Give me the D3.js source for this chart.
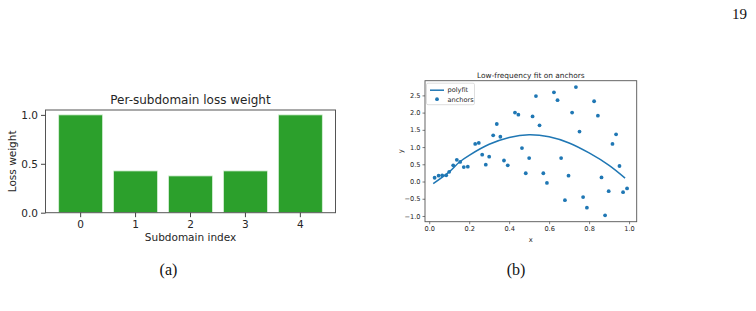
<!DOCTYPE html>
<html>
<head>
<meta charset="utf-8">
<script src="https://cdn.jsdelivr.net/npm/d3@7"></script>
<style>
  body { margin: 0; background: #fff; }
  svg text { font-family: "DejaVu Sans", sans-serif; fill: #262626; }
  .cap { font-family: "Liberation Serif", "DejaVu Serif", serif !important; fill: #111 !important; }
</style>
</head>
<body>
<svg id="fig" width="756" height="311"></svg>
<script>
// left panel: per-subdomain loss weight
const subdomains = [0, 1, 2, 3, 4];
const lossWeights = [1.0, 0.427, 0.376, 0.427, 1.0];
const weightTicks = [0.0, 0.5, 1.0];

// right panel: anchors + low-frequency fit
const anchorX = [0.027, 0.047, 0.065, 0.085, 0.100, 0.120, 0.138, 0.155, 0.173, 0.193,
  0.230, 0.248, 0.265, 0.283, 0.300, 0.320, 0.338, 0.356, 0.374, 0.393,
  0.429, 0.446, 0.464, 0.483, 0.500, 0.517, 0.534, 0.552, 0.571, 0.589,
  0.624, 0.642, 0.660, 0.679, 0.697, 0.715, 0.734, 0.752, 0.770, 0.789,
  0.825, 0.844, 0.862, 0.880, 0.898, 0.917, 0.935, 0.952, 0.970, 0.990];
const anchorY = [0.11, 0.17, 0.18, 0.18, 0.28, 0.47, 0.63, 0.57, 0.42, 0.43,
  1.09, 1.12, 0.78, 0.49, 0.72, 1.34, 1.67, 1.30, 0.61, 0.47,
  2.00, 1.94, 0.97, 0.24, 0.68, 1.89, 2.48, 1.63, 0.24, -0.04,
  2.59, 2.36, 0.68, -0.54, 0.17, 2.00, 2.74, 1.45, -0.45, -0.76,
  2.33, 1.91, 0.12, -0.98, -0.28, 1.09, 1.37, 0.45, -0.31, -0.20];
const fitX = [0.02, 0.10, 0.15, 0.20, 0.30, 0.40, 0.50, 0.60, 0.70, 0.80, 0.90, 0.98];
const fitY = [-0.06, 0.28, 0.56, 0.76, 1.08, 1.28, 1.36, 1.30, 1.12, 0.83, 0.47, 0.10];
const xTicks = [0.0, 0.2, 0.4, 0.6, 0.8, 1.0];
const yTicks = [-1.0, -0.5, 0.0, 0.5, 1.0, 1.5, 2.0, 2.5];

const blue = "#1f77b4";
const green = "#2ca02c";
const svg = d3.select("#fig");

// ---------- panel (a) ----------
const a = { left: 45.5, right: 335.5, top: 110, bottom: 212.7 };
const xa = d3.scaleBand().domain(subdomains).range([a.left, a.right])
  .paddingInner(0.2).paddingOuter(0.24);
const ya = d3.scaleLinear().domain([0, 1.05]).range([a.bottom, a.top]);

const ga = svg.append("g");
ga.selectAll("rect.bar")
  .data(subdomains)
  .enter()
  .append("rect")
  .attr("class", "bar")
  .attr("x", d => xa(d))
  .attr("width", xa.bandwidth())
  .attr("y", (d, i) => ya(lossWeights[i]))
  .attr("height", (d, i) => ya(0) - ya(lossWeights[i]))
  .attr("fill", green)
  .attr("stroke", "#d8f0d8")
  .attr("stroke-width", 0.8);

ga.append("rect")
  .attr("x", a.left).attr("y", a.top)
  .attr("width", a.right - a.left).attr("height", a.bottom - a.top)
  .attr("fill", "none").attr("stroke", "#555").attr("stroke-width", 1);

const axA = ga.append("g").attr("transform", "translate(0," + a.bottom + ")")
  .call(d3.axisBottom(xa).tickSize(4.5).tickPadding(3).tickFormat(d3.format("d")));
const ayA = ga.append("g").attr("transform", "translate(" + a.left + ",0)")
  .call(d3.axisLeft(ya).tickValues(weightTicks).tickSize(4.5).tickPadding(3).tickFormat(d3.format(".1f")));
[axA, ayA].forEach(function (g) {
  g.select(".domain").remove();
  g.selectAll("line").attr("stroke", "#444");
  g.selectAll("text").style("font-size", "10.5px").attr("fill", "#262626");
});

ga.append("text").attr("x", (a.left + a.right) / 2).attr("y", 103.5)
  .attr("text-anchor", "middle").style("font-size", "12px")
  .text("Per-subdomain loss weight");
ga.append("text").attr("x", (a.left + a.right) / 2).attr("y", 241)
  .attr("text-anchor", "middle").style("font-size", "10.5px")
  .text("Subdomain index");
ga.append("text").attr("transform", "translate(15.5," + (a.top + a.bottom) / 2 + ") rotate(-90)")
  .attr("text-anchor", "middle").style("font-size", "10.5px")
  .text("Loss weight");

// ---------- panel (b) ----------
const b = { left: 425, right: 636.7, top: 80.7, bottom: 221.7 };
const xExt = d3.extent(anchorX), yExt = d3.extent(anchorY);
const xPad = (xExt[1] - xExt[0]) * 0.05, yPad = (yExt[1] - yExt[0]) * 0.05;
const xb = d3.scaleLinear().domain([xExt[0] - xPad, xExt[1] + xPad]).range([b.left, b.right]);
const yb = d3.scaleLinear().domain([yExt[0] - yPad, yExt[1] + yPad]).range([b.bottom, b.top]);

const gb = svg.append("g");
const fitLine = d3.line()
  .x(d => xb(d[0]))
  .y(d => yb(d[1]))
  .curve(d3.curveCatmullRom);
gb.append("path")
  .datum(fitX.map((x, i) => [x, fitY[i]]))
  .attr("d", fitLine)
  .attr("fill", "none")
  .attr("stroke", blue)
  .attr("stroke-width", 1.5);

gb.selectAll("circle.anchor")
  .data(anchorX)
  .enter()
  .append("circle")
  .attr("class", "anchor")
  .attr("cx", d => xb(d))
  .attr("cy", (d, i) => yb(anchorY[i]))
  .attr("r", 1.9)
  .attr("fill", blue);

gb.append("rect")
  .attr("x", b.left).attr("y", b.top)
  .attr("width", b.right - b.left).attr("height", b.bottom - b.top)
  .attr("fill", "none").attr("stroke", "#555").attr("stroke-width", 0.9);

const axB = gb.append("g").attr("transform", "translate(0," + b.bottom + ")")
  .call(d3.axisBottom(xb).tickValues(xTicks).tickSize(2.5).tickPadding(2).tickFormat(d3.format(".1f")));
const ayB = gb.append("g").attr("transform", "translate(" + b.left + ",0)")
  .call(d3.axisLeft(yb).tickValues(yTicks).tickSize(2.5).tickPadding(2).tickFormat(d3.format(".1f")));
[axB, ayB].forEach(function (g) {
  g.select(".domain").remove();
  g.selectAll("line").attr("stroke", "#444").attr("stroke-width", 0.7);
  g.selectAll("text").style("font-size", "6.6px").attr("fill", "#262626");
});
ayB.selectAll("text").text(d => d3.format(".1f")(d).replace("-", "\u2212"));

gb.append("text").attr("x", (b.left + b.right) / 2).attr("y", 77.5)
  .attr("text-anchor", "middle").style("font-size", "7.4px")
  .text("Low-frequency fit on anchors");
gb.append("text").attr("x", (b.left + b.right) / 2).attr("y", 241.5)
  .attr("text-anchor", "middle").style("font-size", "6.8px")
  .text("x");
gb.append("text").attr("transform", "translate(403," + (b.top + b.bottom) / 2 + ") rotate(-90)")
  .attr("text-anchor", "middle").style("font-size", "6.8px")
  .text("y");

// legend
const lg = gb.append("g").attr("transform", "translate(" + (b.left + 1.5) + "," + (b.top + 2.5) + ")");
lg.append("rect").attr("width", 48).attr("height", 21.5).attr("rx", 1.5)
  .attr("fill", "#fff").attr("fill-opacity", 0.8).attr("stroke", "#d0d0d0").attr("stroke-width", 0.7);
lg.append("line").attr("x1", 3.5).attr("x2", 17.5).attr("y1", 7).attr("y2", 7)
  .attr("stroke", blue).attr("stroke-width", 1.5);
lg.append("circle").attr("cx", 10.5).attr("cy", 16).attr("r", 1.9).attr("fill", blue);
lg.append("text").attr("x", 21).attr("y", 9.3).style("font-size", "6.6px").text("polyfit");
lg.append("text").attr("x", 21).attr("y", 18.5).style("font-size", "6.6px").text("anchors");

// captions and page number
svg.append("text").attr("class", "cap").attr("x", 168.5).attr("y", 274.5)
  .attr("text-anchor", "middle").style("font-size", "16px").text("(a)");
svg.append("text").attr("class", "cap").attr("x", 516).attr("y", 274.5)
  .attr("text-anchor", "middle").style("font-size", "16px").text("(b)");
svg.append("text").attr("class", "cap").attr("x", 747).attr("y", 19)
  .attr("text-anchor", "end").style("font-size", "15px").text("19");
</script>
</body>
</html>
